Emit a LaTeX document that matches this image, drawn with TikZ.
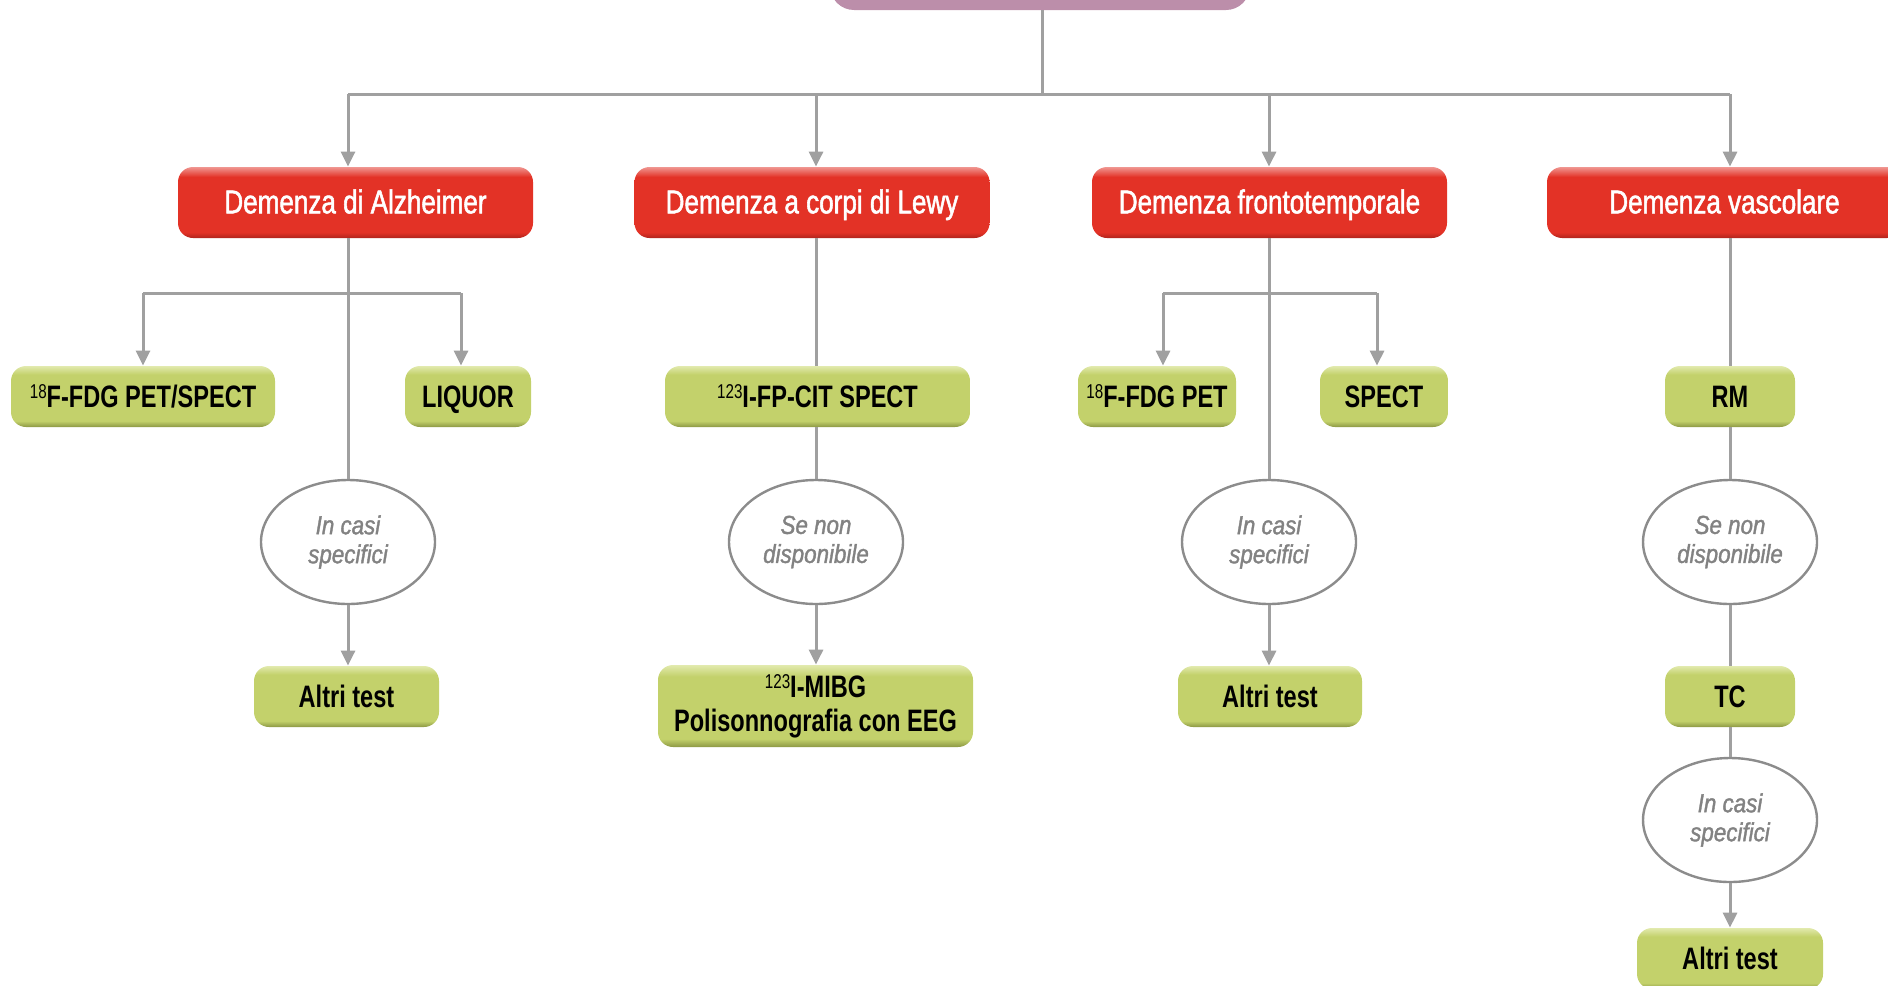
\documentclass[tikz,border=0pt]{standalone}
\usepackage{fontspec}
\setmainfont{Liberation Sans}
\newfontfamily\redfont{Liberation Sans}[FakeStretch=0.79,FakeBold=1.6]
\newfontfamily\grnfont{Liberation Sans}[FakeStretch=0.76]
\newfontfamily\ellfont{Liberation Sans}[FakeStretch=0.86,FakeBold=1.4]
\usetikzlibrary{arrows.meta,shapes.geometric}
\definecolor{rD}{RGB}{176,36,28}
\definecolor{rM}{RGB}{227,50,38}
\definecolor{rL}{RGB}{240,150,145}
\definecolor{gD}{RGB}{140,152,68}
\definecolor{gM}{RGB}{195,209,107}
\definecolor{gL}{RGB}{226,234,174}
\definecolor{purp}{RGB}{188,142,170}
\definecolor{lineg}{RGB}{160,160,160}
\definecolor{ellg}{RGB}{140,140,140}
\definecolor{ellt}{RGB}{130,130,130}
\pgfdeclareverticalshading{redsh}{100bp}{color(0bp)=(rD); color(25bp)=(rD); color(29bp)=(rM); color(68bp)=(rM); color(75bp)=(rL); color(100bp)=(rL)}
\pgfdeclareverticalshading{grnsh}{100bp}{color(0bp)=(gD); color(25bp)=(gD); color(30bp)=(gM); color(68bp)=(gM); color(75bp)=(gL); color(100bp)=(gL)}
\newcommand\isot[1]{{\fontsize{10}{10}\selectfont\mdseries\raisebox{0.45em}{#1}}}
\tikzset{
  redbox/.style={rounded corners=7.5pt, shading=redsh, minimum width=177.5pt, minimum height=35.5pt, inner sep=0pt, text height=10.8pt, text depth=0pt, text=white, font=\redfont\fontsize{16.5}{18}\selectfont},
  grnbase/.style={rounded corners=7.5pt, shading=grnsh, minimum height=30.5pt, inner sep=0pt, text=black, align=center, font=\grnfont\bfseries\fontsize{15.5}{17}\selectfont},
  grnbox/.style={grnbase, text height=11.2pt, text depth=0pt},
  ellbox/.style={ellipse, draw=ellg, line width=1.2pt, fill=white, minimum width=87pt, minimum height=62pt, inner sep=0pt, text=ellt, align=center, font=\ellfont\itshape\fontsize{13}{14.5}\selectfont},
  conn/.style={draw=lineg, line width=1.5pt},
  arr/.style={conn, -{Triangle[length=7.5pt,width=7pt]}, color=lineg},
}
\begin{document}
\begin{tikzpicture}[x=0.5pt,y=-0.5pt]
\useasboundingbox (0,0) rectangle (1888,985);
\clip (0,0) rectangle (1888,985);
% top box
\node[rounded corners=12pt, fill=purp, minimum width=210pt, minimum height=35.5pt, inner sep=0pt] (top) at (1040,-25.5) {};
% red boxes
\node[redbox] (alz) at (355.5,202.5) {Demenza di Alzheimer};
\node[redbox] (lewy) at (812,202.5) {Demenza a corpi di Lewy};
\node[redbox] (fron) at (1269.5,202.5) {Demenza frontotemporale};
\node[redbox] (vasc) at (1724.5,202.5) {Demenza vascolare};
% Alzheimer column
\node[grnbox, minimum width=132pt] (afdg) at (143,396.5) {\isot{18}F-FDG PET/SPECT};
\node[grnbox, minimum width=63pt] (aliq) at (468,396.5) {LIQUOR};
\node[ellbox] (aell) at (348,542) {In casi\\specifici};
\node[grnbox, minimum width=92.5pt] (aalt) at (346.5,696.5) {Altri test};
% Lewy column
\node[grnbox, minimum width=152.5pt] (lfp) at (817.5,396.5) {\isot{123}I-FP-CIT SPECT};
\node[ellbox] (lell) at (816,542) {Se non\\disponibile};
\node[grnbase, minimum width=157.5pt, minimum height=41pt] (lmib) at (815.5,706) {\isot{123}I-MIBG\\Polisonnografia con EEG};
% Fronto column
\node[grnbox, minimum width=79pt] (ffdg) at (1157,396.5) {\isot{18}F-FDG PET};
\node[grnbox, minimum width=64pt] (fspe) at (1384,396.5) {SPECT};
\node[ellbox] (fell) at (1269,542) {In casi\\specifici};
\node[grnbox, minimum width=92pt] (falt) at (1270,696.5) {Altri test};
% Vascular column
\node[grnbox, minimum width=65pt] (vrm) at (1730,396.5) {RM};
\node[ellbox] (vell) at (1730,542) {Se non\\disponibile};
\node[grnbox, minimum width=65pt] (vtc) at (1730,696.5) {TC};
\node[ellbox] (vell2) at (1730,820) {In casi\\specifici};
\node[grnbox, minimum width=93pt] (valt) at (1730,958.5) {Altri test};
% trunk
\coordinate (t0) at (1042,94);
\coordinate (h1) at (348,94);
\coordinate (h2) at (816,94);
\coordinate (h3) at (1269,94);
\coordinate (h4) at (1730,94);
\draw[conn] (t0 |- top.south) -- (t0);
\draw[conn] (h1) -- (h4);
\draw[arr] (h1) -- (h1 |- alz.north);
\draw[arr] (h2) -- (h2 |- lewy.north);
\draw[arr] (h3) -- (h3 |- fron.north);
\draw[arr] (h4) -- (h4 |- vasc.north);
% Alzheimer connectors
\coordinate (ab1) at (143,293);
\coordinate (ab2) at (461,293);
\draw[conn] (aell |- alz.south) -- (aell.north);
\draw[conn] (ab1) -- (ab2);
\draw[arr] (ab1) -- (ab1 |- afdg.north);
\draw[arr] (ab2) -- (ab2 |- aliq.north);
\draw[arr] (aell.south) -- (aell.south |- aalt.north);
% Lewy connectors
\draw[conn] (lell |- lewy.south) -- (lell |- lfp.north);
\draw[conn] (lell |- lfp.south) -- (lell.north);
\draw[arr] (lell.south) -- (lell.south |- lmib.north);
% Fronto connectors
\coordinate (fb1) at (1163,293);
\coordinate (fb2) at (1377,293);
\draw[conn] (fell |- fron.south) -- (fell.north);
\draw[conn] (fb1) -- (fb2);
\draw[arr] (fb1) -- (fb1 |- ffdg.north);
\draw[arr] (fb2) -- (fb2 |- fspe.north);
\draw[arr] (fell.south) -- (fell.south |- falt.north);
% Vascular connectors
\draw[conn] (vrm |- vasc.south) -- (vrm.north);
\draw[conn] (vrm.south) -- (vell.north);
\draw[conn] (vell.south) -- (vtc.north);
\draw[conn] (vtc.south) -- (vell2.north);
\draw[arr] (vell2.south) -- (valt.north);
\end{tikzpicture}
\end{document}
